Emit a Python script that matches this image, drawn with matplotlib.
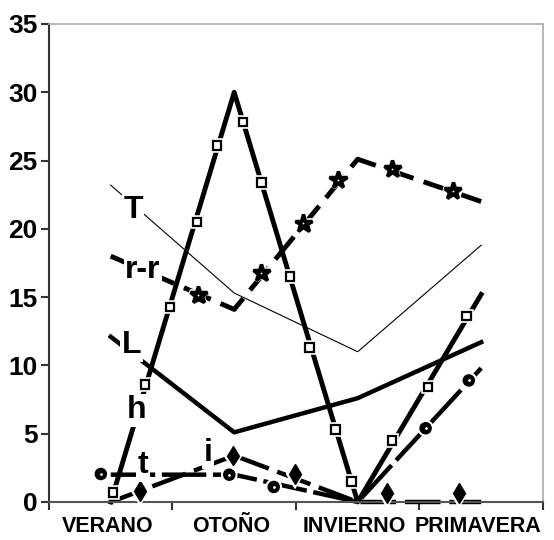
import matplotlib.pyplot as plt
import matplotlib.patheffects as pe
from matplotlib.transforms import ScaledTranslation

plt.rcParams['font.family'] = ['Liberation Sans', 'DejaVu Sans']

# seasons
estaciones = ['VERANO', 'OTOÑO', 'INVIERNO', 'PRIMAVERA']
x = [0, 1, 2, 3]

# series values
T = [23.2, 15.3, 11.0, 18.8]
rr = [18.0, 14.1, 25.1, 22.0]
L = [12.1, 5.1, 7.6, 11.7]
h = [0.0, 30.0, 0.0, 15.2]
t = [2.0, 2.0, 0.0, 9.8]
i = [0.0, 3.4, 0.0, 0.0]

# decorative markers drawn along the lines
h_mx = [0.02, 0.28, 0.48, 0.70, 0.86, 1.07, 1.22, 1.45, 1.61, 1.82, 1.95, 2.28, 2.57, 2.88]
h_my = [0.7, 8.6, 14.3, 20.5, 26.1, 27.8, 23.4, 16.5, 11.3, 5.3, 1.5, 4.5, 8.4, 13.6]
rr_mx = [0.71, 1.22, 1.56, 1.84, 2.28, 2.77]
rr_my = [15.15, 16.8, 20.4, 23.6, 24.4, 22.8]
t_mx = [-0.08, 0.96, 1.32, 2.55, 2.90]
t_my = [2.05, 2.0, 1.1, 5.4, 8.9]
i_mx = [0.24, 0.99, 1.49, 2.24, 2.82]
i_my = [0.8, 3.4, 2.05, 0.66, 0.66]

# series labels
etiquetas = ['T', 'r-r', 'L', 'h', 't', 'i']
etq_x = [0.18, 0.26, 0.17, 0.21, 0.26, 0.79]
etq_y = [21.4, 17.0, 11.5, 6.7, 2.7, 3.6]

fig = plt.figure(figsize=(5.54, 5.40), dpi=100)
ax = fig.add_axes([0.0884, 0.0704, 0.8916, 0.8852])

halo = [pe.withStroke(linewidth=4, foreground='white')]

# lines
ax.plot(x, T, color='black', lw=0.8, clip_on=False, zorder=2)
ax.plot(x, L, color='black', lw=3.2, clip_on=False, zorder=2)
ax.plot(x, rr, color='black', lw=3.5, ls=(0, (6, 2.2)), clip_on=False, zorder=2)
ax.plot(x, h, color='black', lw=3.5, clip_on=False, zorder=2)
ax.plot(x, t, color='black', lw=3.2, ls=(0, (10, 1.5)), clip_on=False, zorder=2)
ax.plot(x, i, color='black', lw=3.2, ls=(0, (8, 2)), clip_on=False, zorder=2)

# markers
ax.plot(h_mx, h_my, ls='none', marker='s', ms=6, mfc='white', mec='black', mew=1.6,
        path_effects=halo, clip_on=False, zorder=3)
ax.plot(rr_mx, rr_my, ls='none', marker='*', ms=13, mfc='black', mec='black', mew=2.5,
        path_effects=halo, clip_on=False, zorder=3)
ax.plot(rr_mx, rr_my, ls='none', marker='o', ms=1.3, mfc='white', mec='white', mew=0, zorder=4)
ax.plot(t_mx, t_my, ls='none', marker='o', ms=8, mfc='black', mec='black',
        path_effects=halo, clip_on=False, zorder=3)
ax.plot(t_mx, t_my, ls='none', marker='o', ms=2, mfc='white', mec='white', mew=0, zorder=4)
ax.plot(i_mx, i_my, ls='none', marker='d', ms=10, mfc='black', mec='black',
        path_effects=halo, clip_on=False, zorder=3)

# series labels with white background
for lab, lx, ly in zip(etiquetas, etq_x, etq_y):
    ax.text(lx, ly, lab, fontsize=23, fontweight='bold', ha='center', va='center', zorder=5,
            bbox=dict(boxstyle='square,pad=0.05', fc='white', ec='none'))

# axes
ax.set_xlim(-0.5, 3.5)
ax.set_ylim(0, 35)
ax.set_yticks(range(0, 36, 5))
ax.set_xticks(x)
ax.set_xticklabels(estaciones, fontsize=15.5, fontweight='bold')
ax.set_xticks([-0.5, 0.5, 1.5, 2.5, 3.5], minor=True)
ax.tick_params(axis='x', which='major', length=0, pad=10)
ax.tick_params(axis='x', which='minor', length=6, width=1.5, color='#333333')
ax.tick_params(axis='y', length=6, width=1.5, color='#333333', pad=2, labelsize=19)
for lbl in ax.get_yticklabels():
    lbl.set_fontweight('bold')
for lbl in ax.get_xticklabels():
    lbl.set_transform(lbl.get_transform() + ScaledTranslation(-3 / 100, 0, fig.dpi_scale_trans))

ax.spines['left'].set_color('#333333')
ax.spines['left'].set_linewidth(1.5)
ax.spines['bottom'].set_color('#555555')
ax.spines['bottom'].set_linewidth(1.5)
ax.spines['top'].set_color('#aaaaaa')
ax.spines['top'].set_linewidth(1.2)
ax.spines['right'].set_color('#aaaaaa')
ax.spines['right'].set_linewidth(1.2)

plt.savefig('out.png', dpi=100)
